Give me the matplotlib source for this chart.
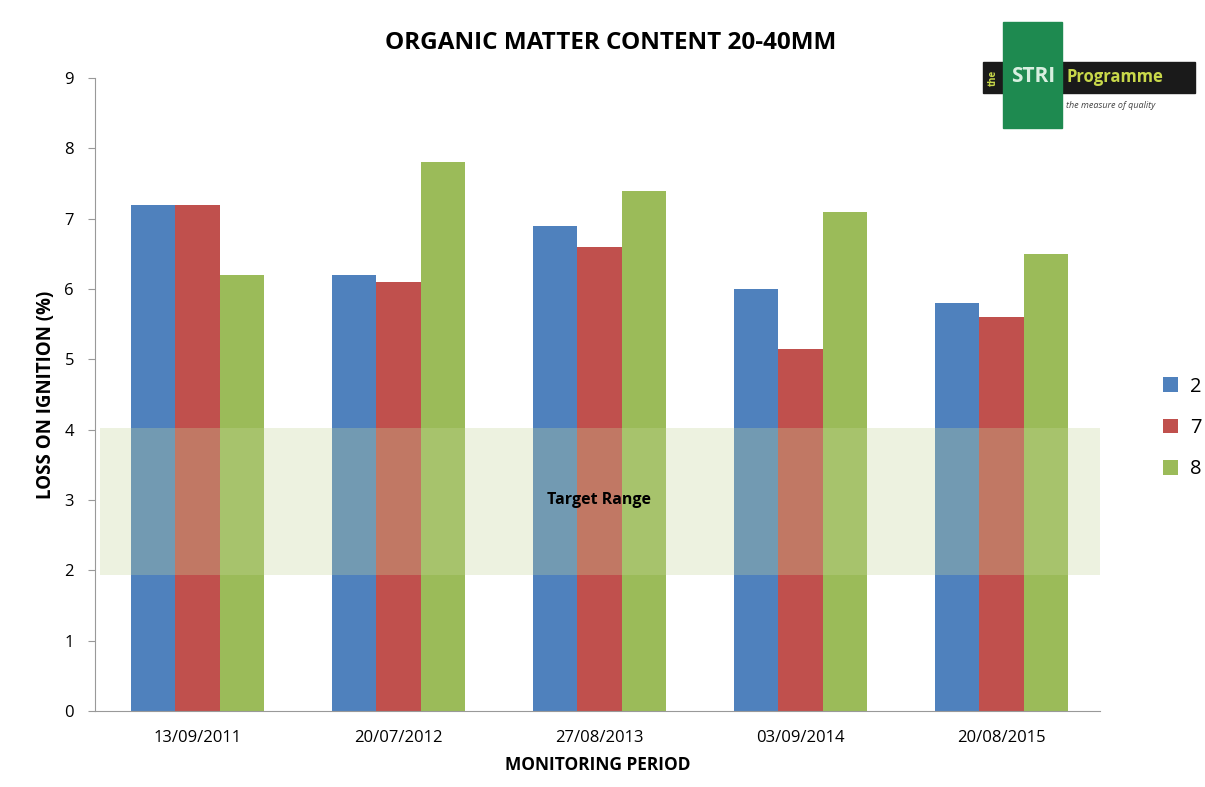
import numpy as np
import matplotlib.pyplot as plt
from matplotlib.patches import Rectangle

plt.rcParams['font.family'] = ['Open Sans', 'DejaVu Sans']

periods = ["13/09/2011", "20/07/2012", "27/08/2013", "03/09/2014", "20/08/2015"]
series_names = ["2", "7", "8"]
green_2 = [7.2, 6.2, 6.9, 6.0, 5.8]
green_7 = [7.2, 6.1, 6.6, 5.15, 5.6]
green_8 = [6.2, 7.8, 7.4, 7.1, 6.5]
target_low, target_high = 1.93, 4.03

colors = ["#4f81bd", "#c0504d", "#9bbb59"]

fig = plt.figure(figsize=(12.05, 7.87), dpi=100)
ax = fig.add_axes([0.0788, 0.0966, 0.834, 0.8043])

x = np.arange(len(periods))
w = 0.22
for i, vals in enumerate([green_2, green_7, green_8]):
    ax.bar(x + (i - 1) * w + 0.01, vals, width=w, color=colors[i], label=series_names[i], zorder=2)

# target range band drawn over the bars
ax.axhspan(target_low, target_high, xmin=0.005, xmax=1.0, color="#c4d79b", alpha=0.3, lw=0, zorder=3)
ax.text(2.01, 3.0, "Target Range", ha="center", va="center", fontsize=11.5, fontweight="bold", zorder=4)

ax.set_xlim(-0.5, 4.5)
ax.set_ylim(0, 9)
ax.set_yticks(range(0, 10))
ax.set_xticks(x + 0.01)
ax.set_xticklabels(periods, fontsize=12)
ax.tick_params(axis="y", labelsize=12, length=5, color="#999999", direction="out", pad=10)
ax.tick_params(axis="x", length=0, pad=14)
for s in ["top", "right"]:
    ax.spines[s].set_visible(False)
for s in ["left", "bottom"]:
    ax.spines[s].set_color("#999999")

ax.set_xlabel("MONITORING PERIOD", fontsize=12.5, fontweight="bold", labelpad=7)
ax.set_ylabel("LOSS ON IGNITION (%)", fontsize=13.5, fontweight="bold", labelpad=6)
fig.text(0.507, 0.945, "ORGANIC MATTER CONTENT 20-40MM", ha="center", va="center",
         fontsize=17.5, fontweight="bold")

ax.legend(loc="center left", bbox_to_anchor=(1.045, 0.447), frameon=False, fontsize=14.5,
          handlelength=0.75, handleheight=0.75, labelspacing=1.05, handletextpad=0.6)

# STRI logo
fw, fh = 1205, 787
def box(x0, y0, x1, y1, c):
    fig.patches.append(Rectangle((x0 / fw, 1 - y1 / fh), (x1 - x0) / fw, (y1 - y0) / fh,
                                 transform=fig.transFigure, color=c, zorder=5))
box(983, 62, 1195, 93, "#1a1a1a")
box(1003, 22, 1062, 128, "#1e8a50")
fig.text(993 / fw, 1 - 78 / fh, "the", rotation=90, ha="center", va="center", fontsize=7,
         color="#c8d84a", fontweight="bold", zorder=6)
fig.text(1033 / fw, 1 - 77 / fh, "STRI", ha="center", va="center", fontsize=15,
         color="#d8efe0", fontweight="bold", zorder=6)
fig.text(1067 / fw, 1 - 77 / fh, "Programme", ha="left", va="center", fontsize=12,
         color="#c8d84a", fontweight="bold", zorder=6)
fig.text(1066 / fw, 1 - 106 / fh, "the measure of quality", ha="left", va="center", fontsize=6.5,
         color="#444444", style="italic", zorder=6)

fig.savefig("out.png", dpi=100)
